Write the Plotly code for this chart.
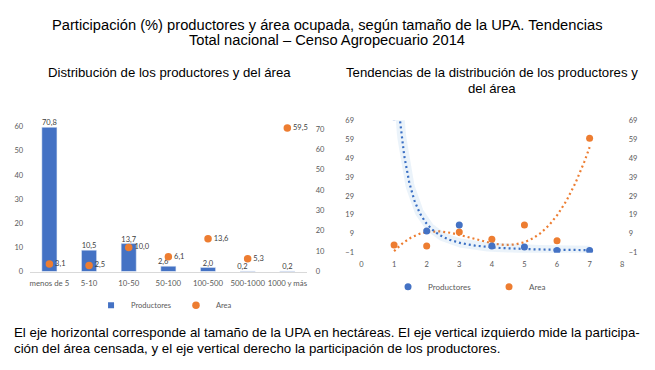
import numpy as np
import plotly.graph_objects as go

# ---------------- data ----------------
categories = ["menos de 5", "5-10", "10-50", "50-100", "100-500", "500-1000", "1000 y más"]
productores = [70.8, 10.5, 13.7, 2.6, 2.0, 0.2, 0.2]
area = [3.1, 2.5, 10.0, 6.1, 13.6, 5.3, 59.5]
size_index = [1, 2, 3, 4, 5, 6, 7]
left_axis_ticks = [0, 10, 20, 30, 40, 50, 60]
right_axis_ticks = [0, 10, 20, 30, 40, 50, 60, 70]
trend_axis_ticks = [-1, 9, 19, 29, 39, 49, 59, 69]
trend_x_ticks = [0, 1, 2, 3, 4, 5, 6, 7, 8]

# page body has an 8px margin: figure is sized to fit inside the window
OFF = 8
W, H = 655 - OFF, 370 - 2 * OFF
BLUE = "#4472C4"
ORANGE = "#ED7D31"
GRAY = "#595959"
LBL = "#404040"
TICKF = "Lato"
TXTF = "Liberation Sans"


def px(x):
    return (x - OFF) / W


def py(y):
    return 1 - (y - OFF) / H


def fmt(v):
    return f"{v:.1f}".replace(".", ",")


# trendlines fitted from the data (Excel-style power and 3rd order polynomial)
xs = np.linspace(1, 7, 300)
bcoef = np.polyfit(np.log(size_index), np.log(productores), 1)
prod_trend = np.exp(bcoef[1]) * xs ** bcoef[0]
acoef = np.polyfit(size_index, area, 3)
area_trend = np.polyval(acoef, xs)

fig = go.Figure()

# ---------- left chart ----------
fig.add_trace(go.Bar(
    x=categories, y=productores, yaxis="y", xaxis="x",
    marker_color=BLUE, width=0.38, name="Productores", showlegend=False,
    hoverinfo="skip",
))
fig.add_trace(go.Scatter(
    x=categories, y=productores, xaxis="x", yaxis="y", mode="text",
    text=[fmt(v) for v in productores],
    textposition=["top center", "top center", "top center", "top left",
                  "top center", "top left", "top center"],
    textfont=dict(size=7.5, color=LBL, family=TICKF),
    cliponaxis=False, showlegend=False, hoverinfo="skip",
))
# legend proxy for bars (small square like the original)
fig.add_trace(go.Scatter(
    x=[None], y=[None], xaxis="x", yaxis="y", mode="markers",
    marker=dict(symbol="square", size=6, color=BLUE), name="Productores",
    legend="legend",
))
fig.add_trace(go.Scatter(
    x=categories, y=area, xaxis="x", yaxis="y2", mode="markers+text",
    marker=dict(size=7.5, color=ORANGE), name="Area",
    text=[fmt(v) for v in area], textposition="middle right",
    textfont=dict(size=7.5, color=LBL, family=TICKF),
    cliponaxis=False, legend="legend",
))

# ---------- right chart ----------
fig.add_trace(go.Scatter(
    x=xs, y=prod_trend, xaxis="x2", yaxis="y4", mode="lines",
    line=dict(color="rgba(91,155,213,0.12)", width=9),
    showlegend=False, hoverinfo="skip",
))
fig.add_trace(go.Scatter(
    x=xs, y=prod_trend, xaxis="x2", yaxis="y4", mode="lines",
    line=dict(color="#3A6FC4", width=2.2, dash="2px,3px"),
    showlegend=False, hoverinfo="skip",
))
fig.add_trace(go.Scatter(
    x=xs, y=area_trend, xaxis="x2", yaxis="y3", mode="lines",
    line=dict(color=ORANGE, width=2.2, dash="2px,3px"),
    showlegend=False, hoverinfo="skip",
))
fig.add_trace(go.Scatter(
    x=size_index, y=productores, xaxis="x2", yaxis="y4", mode="markers",
    marker=dict(size=7, color=BLUE), name="Productores", legend="legend2",
))
fig.add_trace(go.Scatter(
    x=size_index, y=area, xaxis="x2", yaxis="y3", mode="markers",
    marker=dict(size=7, color=ORANGE), name="Area", legend="legend2",
))

tickfont = dict(size=7.5, color=GRAY, family=TICKF)
hidden_tick = dict(ticks="outside", tickcolor="rgba(0,0,0,0)")

fig.update_layout(
    width=W, height=H, margin=dict(l=0, r=0, t=0, b=0),
    paper_bgcolor="white", plot_bgcolor="white",
    showlegend=True,
    xaxis=dict(domain=[px(27.7), px(307)], type="category", range=[-0.5, 6.5],
               showline=True, linecolor="#D9D9D9", linewidth=1,
               ticklen=4, **hidden_tick,
               tickfont=dict(size=7.8, color=GRAY, family=TICKF),
               showgrid=False, zeroline=False, anchor="y"),
    # productores (bars) axis on the right
    yaxis=dict(domain=[py(274.3), py(123.2)], range=[0, 72.3], side="right",
               tickvals=right_axis_ticks, showgrid=False, zeroline=False,
               ticklen=6, **hidden_tick, tickfont=tickfont, anchor="x"),
    # area (dots) axis on the left
    yaxis2=dict(range=[0, 61], overlaying="y", side="left", anchor="x",
                tickvals=left_axis_ticks, showgrid=False, zeroline=False,
                ticklen=4, **hidden_tick, tickfont=tickfont),
    xaxis2=dict(domain=[px(361.7), px(624)], range=[0, 8],
                tickvals=trend_x_ticks, showgrid=False, zeroline=False,
                showline=False, ticklen=4, **hidden_tick,
                tickfont=tickfont, anchor="y3"),
    yaxis3=dict(domain=[py(255), py(119)], range=[-1, 69],
                tickvals=trend_axis_ticks, showgrid=False, zeroline=False,
                ticklen=5, **hidden_tick, tickfont=tickfont, anchor="x2"),
    yaxis4=dict(range=[-1, 69], overlaying="y3", side="right", anchor="x2",
                tickvals=trend_axis_ticks, showgrid=False, zeroline=False,
                ticklen=4, **hidden_tick, tickfont=tickfont),
    legend=dict(orientation="h", x=px(163), xanchor="center", y=py(309),
                yanchor="middle", font=dict(size=7.5, color=GRAY, family=TICKF),
                itemwidth=30, tracegroupgap=0, bgcolor="rgba(0,0,0,0)"),
    legend2=dict(orientation="h", x=px(490), xanchor="center", y=py(290),
                 yanchor="middle", font=dict(size=8, color=GRAY, family=TICKF),
                 entrywidth=56, bgcolor="rgba(0,0,0,0)"),
)

ann = [
    ("Participación (%) productores y área ocupada, según tamaño de la UPA. Tendencias",
     327, 21, 14.7, "center"),
    ("Total nacional – Censo Agropecuario 2014", 327, 37, 14.7, "center"),
    ("Distribución de los productores y del área", 168, 70, 13.2, "center"),
    ("Tendencias de la distribución de los productores y", 493, 70, 13.2, "center"),
    ("del área", 493, 87, 13.2, "center"),
    ("El eje horizontal corresponde al tamaño de la UPA en hectáreas. El eje vertical izquierdo mide la participa-",
     10, 337, 13.3, "left"),
    ("ción del área censada, y el eje vertical derecho la participación de los productores.",
     10, 353, 13.3, "left"),
]
for text, x, y, size, align in ann:
    fig.add_annotation(
        text=text, xref="paper", yref="paper", x=px(x), y=py(y),
        xanchor="left" if align == "left" else "center", yanchor="middle",
        showarrow=False, font=dict(size=size, color="black", family=TXTF),
    )

fig.write_html("out.html")
